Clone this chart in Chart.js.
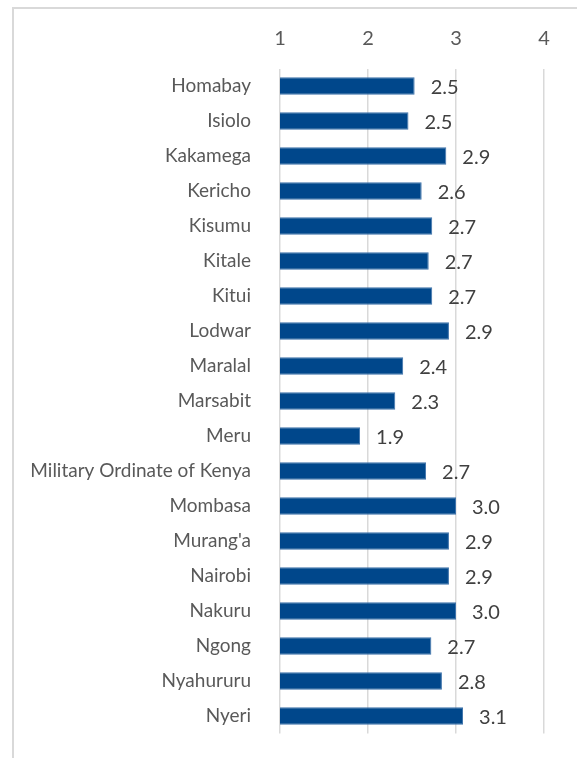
<!DOCTYPE html>
<html>
<head>
<meta charset="utf-8">
<script src="https://cdn.jsdelivr.net/npm/chart.js@4.4.0/dist/chart.umd.min.js"></script>
<style>
  body { margin: 0; background: #fff; overflow: hidden; }
  .frame { position: absolute; left: 12px; top: 7px; width: 700px; height: 800px; border: 2px solid #d9d9d9; box-sizing: border-box; }
  .wrap { position: absolute; left: 0; top: 0; width: 577px; height: 758px; }
</style>
</head>
<body>
<div class="frame"></div>
<div class="wrap"><canvas id="myChart" width="577" height="758"></canvas></div>
<script>
const ciudades = ["Homabay", "Isiolo", "Kakamega", "Kericho", "Kisumu", "Kitale", "Kitui", "Lodwar",
    "Maralal", "Marsabit", "Meru", "Military Ordinate of Kenya", "Mombasa", "Murang'a", "Nairobi",
    "Nakuru", "Ngong", "Nyahururu", "Nyeri"]
const valores = [2.53, 2.46, 2.89, 2.61, 2.73, 2.69, 2.73, 2.92, 2.40, 2.31, 1.91, 2.66, 3.00, 2.92, 2.92,
    3.00, 2.72, 2.84, 3.08]
const ejeMin = 1
const ejeMax = 4

const fuente = "Lato, 'Open Sans', sans-serif"

// etiquetas de valor al final de cada barra
const etiquetasBarras = {
    id: 'etiquetasBarras',
    afterDatasetsDraw(chart) {
        const ctx = chart.ctx
        const meta = chart.getDatasetMeta(0)
        ctx.save()
        ctx.font = `20px ${fuente}`
        ctx.fillStyle = '#404040'
        ctx.textAlign = 'left'
        ctx.textBaseline = 'middle'
        meta.data.forEach((bar, i) => {
            ctx.fillText(valores[i].toFixed(1), bar.x + 16, bar.y + 2)
        })
        ctx.restore()
    }
}

new Chart(document.getElementById("myChart"), {
    type: 'bar',
    data: {
        labels: ciudades,
        datasets: [{
            data: valores,
            backgroundColor: '#00478b',
            borderColor: '#3d72aa',
            borderWidth: 1,
            barPercentage: 0.5,
            categoryPercentage: 1
        }]
    },
    options: {
        indexAxis: 'y',
        responsive: false,
        animation: false,
        layout: { padding: { top: 0, right: 33, bottom: 24.5, left: 0 } },
        plugins: {
            legend: { display: false },
            tooltip: { enabled: false }
        },
        scales: {
            x: {
                position: 'top',
                min: ejeMin,
                max: ejeMax,
                ticks: { stepSize: 1, color: '#595959', font: { family: fuente, size: 20 }, padding: 18 },
                grid: { color: '#d9d9d9', lineWidth: 1.5, drawTicks: false },
                border: { display: false },
                afterFit: (s) => { s.height = 68.5 }
            },
            y: {
                ticks: { color: '#595959', font: { family: fuente, size: 19 }, padding: 21 },
                grid: { display: false },
                border: { display: false },
                afterFit: (s) => {
                    s.width = 280
                    s.paddingTop = 0
                    s.paddingBottom = 0
                }
            }
        }
    },
    plugins: [etiquetasBarras]
});
</script>
</body>
</html>
